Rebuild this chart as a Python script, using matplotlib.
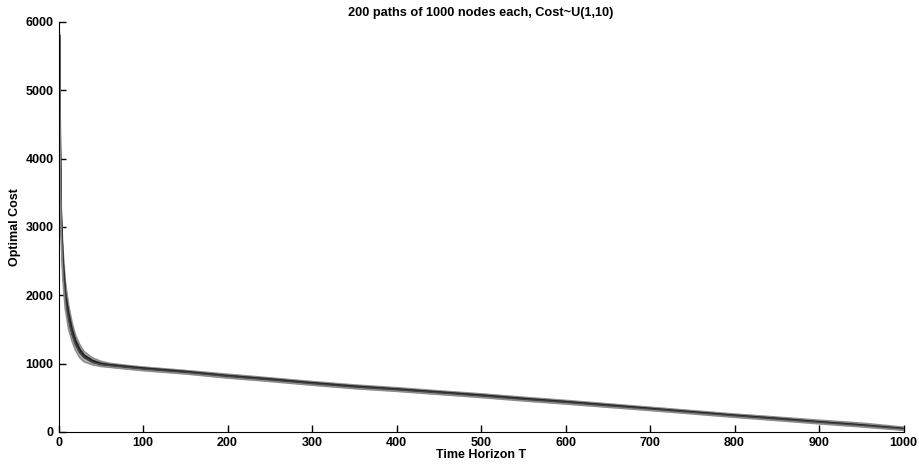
import matplotlib
matplotlib.use("Agg")
import matplotlib.pyplot as plt

plt.rcParams['font.family'] = ['Liberation Sans', 'DejaVu Sans']
plt.rcParams['font.weight'] = 'bold'

T = [1, 2, 3, 5, 8, 12, 16, 20, 25, 30, 40, 50, 60, 80, 100, 150, 200, 250, 300,
     350, 400, 450, 500, 550, 600, 650, 700, 750, 800, 850, 900, 950, 1000]

# a few representative paths out of the 200 (upper .. lower)
path_a = [5850, 4300, 3350, 2700, 2200, 1850, 1600, 1420, 1280, 1180, 1085, 1035, 1005, 975, 950, 900, 845,
          792, 738, 688, 648, 602, 558, 508, 462, 412, 362, 312, 262, 218, 172, 130, 70]
path_b = [5800, 4150, 3200, 2550, 2050, 1740, 1510, 1350, 1220, 1130, 1050, 1005, 985, 960, 935, 885, 825,
          775, 720, 670, 628, 585, 540, 490, 444, 394, 344, 294, 244, 198, 150, 104, 50]
path_c = [5800, 4100, 3150, 2500, 2000, 1700, 1480, 1330, 1200, 1120, 1040, 1000, 980, 955, 930, 880, 820,
          770, 715, 665, 625, 580, 535, 485, 440, 390, 340, 290, 240, 195, 145, 100, 45]
path_d = [5750, 3950, 3050, 2400, 1920, 1620, 1420, 1280, 1160, 1090, 1020, 985, 970, 945, 920, 870, 812,
          760, 705, 655, 615, 570, 525, 475, 430, 380, 332, 282, 232, 186, 138, 92, 40]
path_e = [5700, 3800, 2900, 2250, 1800, 1500, 1330, 1200, 1090, 1030, 985, 960, 948, 922, 898, 850, 790,
          740, 685, 635, 595, 550, 505, 455, 410, 362, 315, 265, 215, 168, 120, 75, 25]

fig = plt.figure(figsize=(9.19, 4.65), dpi=100)
ax = fig.add_axes([0.0637, 0.071, 0.9195, 0.8817])

ax.fill_between(T, path_e, path_a, color='#bdbdbd', lw=0)
for p, c, w in zip([path_a, path_b, path_c, path_d, path_e],
                   ['#8c8c8c', '#444444', '#222222', '#444444', '#8c8c8c'],
                   [1.2, 1.3, 1.5, 1.3, 1.2]):
    ax.plot(T, p, color=c, lw=w)

ax.set_xlim(0, 1000)
ax.set_ylim(0, 6000)
ax.set_xticks(range(0, 1001, 100))
ax.set_yticks(range(0, 6001, 1000))
ax.tick_params(direction='in', length=5, labelsize=9, width=1)
for lab in ax.get_xticklabels() + ax.get_yticklabels():
    lab.set_fontweight('bold')
ax.spines['top'].set_visible(False)
ax.spines['right'].set_visible(False)

ax.set_title('200 paths of 1000 nodes each, Cost~U(1,10)', fontsize=9.2, fontweight='bold', pad=4)
ax.set_xlabel('Time Horizon T', fontsize=9, fontweight='bold', labelpad=0)
ax.set_ylabel('Optimal Cost', fontsize=9, fontweight='bold', labelpad=3)

fig.savefig('out.png', dpi=100)
